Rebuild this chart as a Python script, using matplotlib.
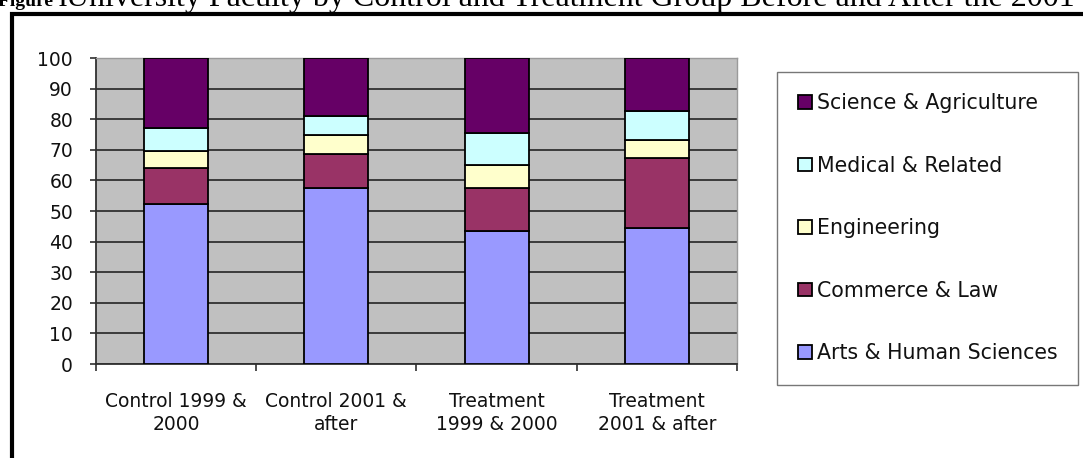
import matplotlib
matplotlib.use('Agg')
import matplotlib.pyplot as plt
import numpy as np
from matplotlib.patches import Rectangle

# data (percent of faculty)
groups = ['Control 1999 &\n2000', 'Control 2001 &\nafter',
          'Treatment\n1999 & 2000', 'Treatment\n2001 & after']
arts = [52.3, 57.4, 43.6, 44.3]
commerce = [11.9, 11.1, 14.0, 22.9]
engineering = [5.5, 6.2, 7.5, 6.0]
medical = [7.3, 6.4, 10.5, 9.5]
science = [23.0, 18.9, 24.4, 17.3]

series = [('Arts & Human Sciences', arts, '#9999FF'),
          ('Commerce & Law', commerce, '#993366'),
          ('Engineering', engineering, '#FFFFCC'),
          ('Medical & Related', medical, '#CCFFFF'),
          ('Science & Agriculture', science, '#660066')]

fig = plt.figure(figsize=(10.83, 4.58), dpi=100)
fig.patch.set_facecolor('white')
ax = fig.add_axes([0.0886, 0.2052, 0.5919, 0.6681])
ax.set_facecolor('#C0C0C0')

x = np.arange(len(groups))
bottom = np.zeros(len(groups))
handles = []
for name, vals, col in series:
    b = ax.bar(x, vals, 0.4, bottom=bottom, color=col, edgecolor='black',
               linewidth=1.3, label=name, zorder=3)
    handles.append(b)
    bottom += np.array(vals)

ax.set_xlim(-0.5, len(groups) - 0.5)
ax.set_ylim(0, 100)
ax.set_yticks(np.arange(0, 101, 10))
ax.yaxis.grid(True, color='#303030', linewidth=1.3, zorder=1)
ax.set_axisbelow(True)

ax.set_xticks(x)
ax.set_xticklabels(groups, fontsize=13.5, linespacing=1.3, color='#111111')
ax.set_xticks(np.arange(-0.5, len(groups)), minor=True)
ax.tick_params(axis='x', which='major', length=0, pad=20)
ax.tick_params(axis='x', which='minor', length=5, width=1.2, color='#303030')
ax.tick_params(axis='y', length=4.5, width=1.2, color='#303030', pad=12,
               labelsize=13.5, labelcolor='#111111')

for s in ['left', 'bottom']:
    ax.spines[s].set_color('#303030')
    ax.spines[s].set_linewidth(1.3)
for s in ['top', 'right']:
    ax.spines[s].set_color('#9a9a9a')
    ax.spines[s].set_linewidth(1.0)

# legend, reversed so Science sits at the top
leg = fig.legend(handles[::-1], [h.get_label() for h in handles[::-1]],
                 loc='upper left', bbox_to_anchor=(777 / 1083, 1 - 72 / 458),
                 fontsize=14.8, frameon=True, fancybox=False,
                 edgecolor='#555555', handlelength=0.65, handleheight=0.65,
                 handletextpad=0.25, labelspacing=2.07, borderpad=1.03,
                 borderaxespad=0)
leg.get_frame().set_linewidth(1.0)
for t in leg.get_texts():
    t.set_color('#111111')

# heavy outer frame that runs off the right and bottom edges
fig.patches.append(Rectangle((12 / 1083, -0.2), 1.2, 1 - 13.5 / 458 + 0.2,
                             transform=fig.transFigure, fill=False,
                             edgecolor='black', linewidth=3.0, clip_on=False))

# caption, cut off at the top and right as in the source
fig.text(-2 / 1083, 1 - 6 / 458, 'Figure 1', fontsize=14, fontweight='bold',
         family='Liberation Serif', va='baseline', ha='left')
fig.text(66 / 1083, 1 - 6 / 458,
         'University Faculty by Control and Treatment Group Before and After the 2001',
         fontsize=23, family='Liberation Serif', va='baseline', ha='left')

fig.savefig('out.png', dpi=100)
plt.close()
